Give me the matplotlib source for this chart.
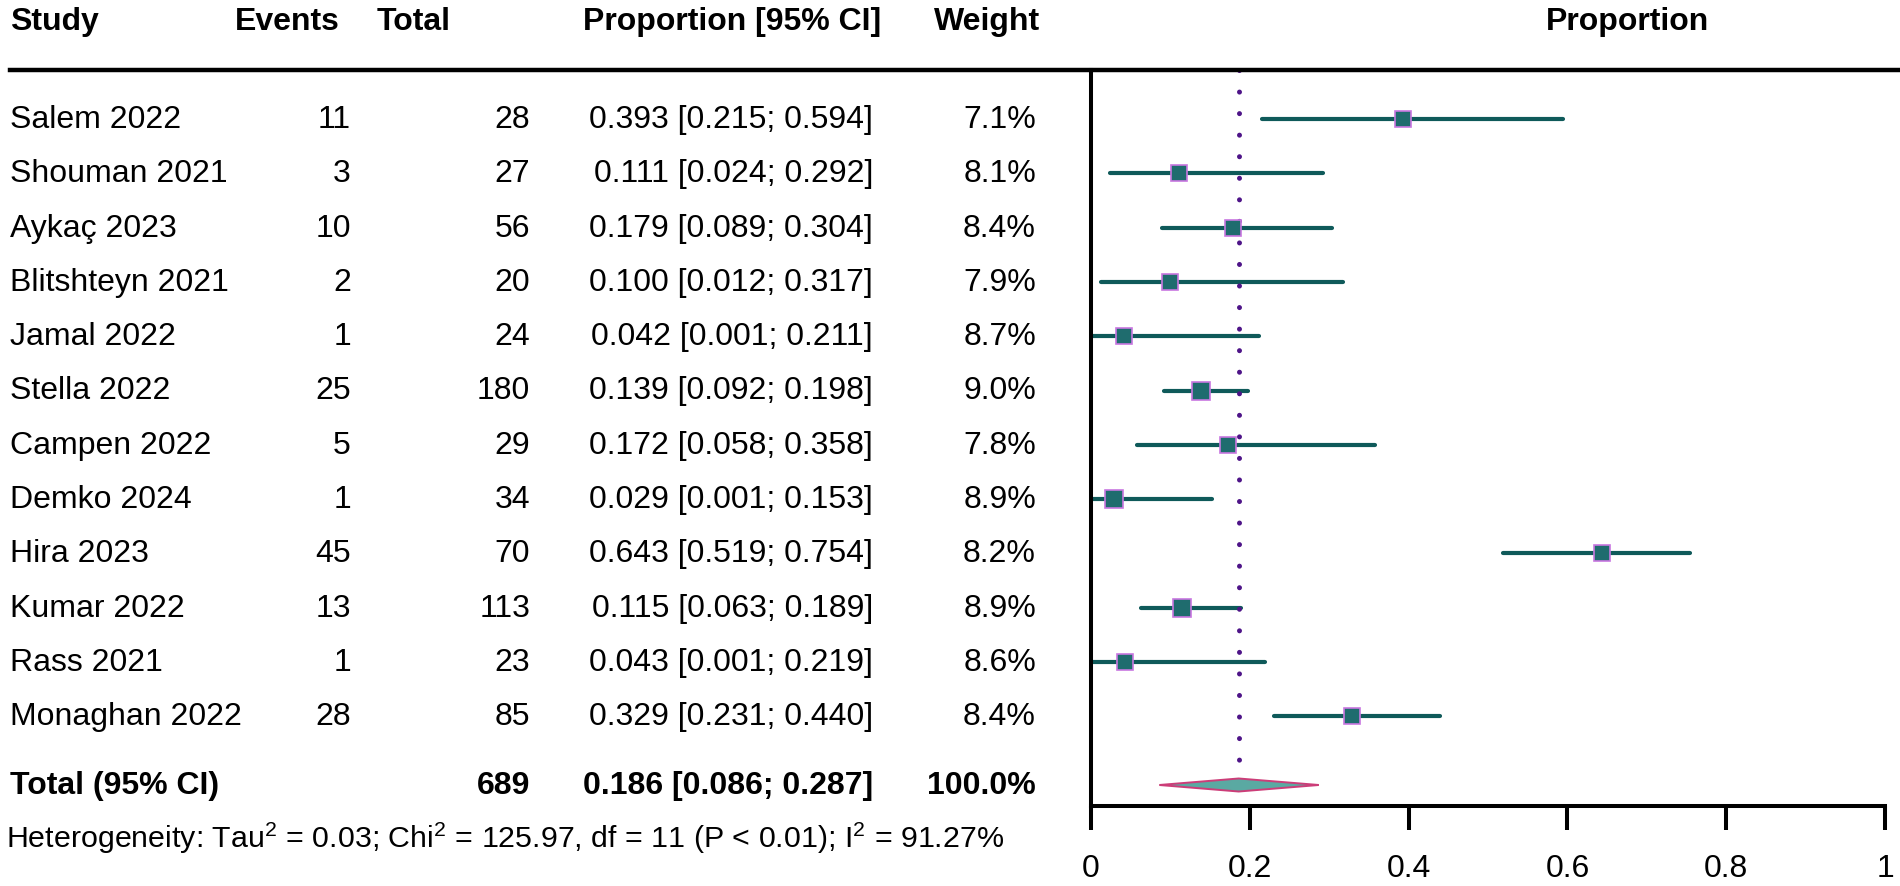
import numpy as np
import matplotlib
matplotlib.use("Agg")
import matplotlib.pyplot as plt
from matplotlib.lines import Line2D
from matplotlib.transforms import blended_transform_factory

plt.rcParams["font.family"] = ["Liberation Sans", "DejaVu Sans"]
plt.rcParams["mathtext.fontset"] = "custom"
plt.rcParams["mathtext.rm"] = "Liberation Sans"

studies = ["Salem 2022", "Shouman 2021", "Aykaç 2023", "Blitshteyn 2021", "Jamal 2022",
           "Stella 2022", "Campen 2022", "Demko 2024", "Hira 2023", "Kumar 2022",
           "Rass 2021", "Monaghan 2022"]
events = [11, 3, 10, 2, 1, 25, 5, 1, 45, 13, 1, 28]
totals = [28, 27, 56, 20, 24, 180, 29, 34, 70, 113, 23, 85]
props = [0.393, 0.111, 0.179, 0.100, 0.042, 0.139, 0.172, 0.029, 0.643, 0.115, 0.043, 0.329]
lower = [0.215, 0.024, 0.089, 0.012, 0.001, 0.092, 0.058, 0.001, 0.519, 0.063, 0.001, 0.231]
upper = [0.594, 0.292, 0.304, 0.317, 0.211, 0.198, 0.358, 0.153, 0.754, 0.189, 0.219, 0.440]
weights = [7.1, 8.1, 8.4, 7.9, 8.7, 9.0, 7.8, 8.9, 8.2, 8.9, 8.6, 8.4]
total_n = 689
pooled, pooled_lo, pooled_hi = 0.186, 0.086, 0.287
xticks = [0, 0.2, 0.4, 0.6, 0.8, 1]
xtick_labels = ["0", "0.2", "0.4", "0.6", "0.8", "1"]
het_text = ("Heterogeneity: Tau$^{2}$ = 0.03; Chi$^{2}$ = 125.97, df = 11 "
            "(P < 0.01); I$^{2}$ = 91.27%")

W, H = 1900, 887
fig = plt.figure(figsize=(W / 100, H / 100), dpi=100)


def fx(x):
    return x / W


def fy(y):
    return 1 - y / H


# pixel layout
top_line, axis_line = 71, 807
row0, step = 120, 54.3
x0_px, x1_px = 1091, 1885

ax = fig.add_axes([fx(x0_px), fy(axis_line), (x1_px - x0_px) / W, (axis_line - top_line) / H])
ax.set_xlim(0, 1)
ax.set_ylim((axis_line - row0) / step, (top_line - row0) / step)

rows = np.arange(len(studies))
total_row = (786 - row0) / step
header_row = (22 - row0) / step
het_row = (838 - row0) / step

line_col = "#0f5a5a"
lc = ax.hlines(rows, lower, upper, color=line_col, lw=3.0)
lc.set_capstyle("round")
for r, p, w in zip(rows, props, weights):
    ax.plot(p, r, marker="s", ms=12 * np.sqrt(w / 8.4), mfc="#1f6c6e",
            mec="#c877e0", mew=1.2, ls="none", zorder=3)

dh = 0.12
ax.fill([pooled_lo, pooled, pooled_hi, pooled],
        [total_row, total_row - dh, total_row, total_row + dh],
        facecolor="#5aa9a2", edgecolor="#cc3d78", lw=1.4, zorder=3)

dl = ax.vlines(pooled, ax.get_ylim()[1], total_row - dh, color="#4e1488", lw=3.6,
               linestyles=[(0, (0.01, 4.3))])
dl.set_capstyle("round")

for s in ["top", "right"]:
    ax.spines[s].set_visible(False)
ax.spines["left"].set_linewidth(2.9)
ax.spines["bottom"].set_linewidth(2.9)
ax.spines["bottom"].set_bounds(0, 1)
ax.set_yticks([])
ax.set_xticks(xticks)
ax.set_xticklabels(xtick_labels)
ax.tick_params(axis="x", length=17, width=2.9, pad=17, labelsize=23)

fig.add_artist(Line2D([fx(10), 1], [fy(top_line)] * 2, transform=fig.transFigure,
                      color="black", lw=3.2))

tr = blended_transform_factory(fig.transFigure, ax.transData)
fs = 23
col_study, col_ev, col_tot, col_prop, col_w = 10, 351, 530, 873, 1036
hcol_ev, hcol_tot, hcol_prop, hcol_w = 340, 451, 881, 1040

hdr = dict(transform=tr, fontsize=fs, fontweight="bold", va="center")
ax.text(fx(col_study), header_row, "Study", ha="left", **hdr)
ax.text(fx(hcol_ev), header_row, "Events", ha="right", **hdr)
ax.text(fx(hcol_tot), header_row, "Total", ha="right", **hdr)
ax.text(fx(hcol_prop), header_row, "Proportion [95% CI]", ha="right", **hdr)
ax.text(fx(hcol_w), header_row, "Weight", ha="right", **hdr)
ax.text(fx(1628), header_row, "Proportion", ha="center", **hdr)

txt = dict(transform=tr, fontsize=fs, va="center")
for r, s, e, n, p, lo, hi, w in zip(rows, studies, events, totals, props, lower, upper, weights):
    ax.text(fx(col_study), r, s, ha="left", **txt)
    ax.text(fx(col_ev), r, str(e), ha="right", **txt)
    ax.text(fx(col_tot), r, str(n), ha="right", **txt)
    ax.text(fx(col_prop), r, f"{p:.3f} [{lo:.3f}; {hi:.3f}]", ha="right", **txt)
    ax.text(fx(col_w), r, f"{w:.1f}%", ha="right", **txt)

ax.text(fx(col_study), total_row, "Total (95% CI)", ha="left", **hdr)
ax.text(fx(col_tot), total_row, str(total_n), ha="right", **hdr)
ax.text(fx(col_prop), total_row, f"{pooled:.3f} [{pooled_lo:.3f}; {pooled_hi:.3f}]", ha="right", **hdr)
ax.text(fx(col_w), total_row, "100.0%", ha="right", **hdr)

ax.text(fx(6), het_row, het_text, transform=tr, fontsize=21.9, va="center", ha="left")

fig.savefig("out.png", dpi=100)
